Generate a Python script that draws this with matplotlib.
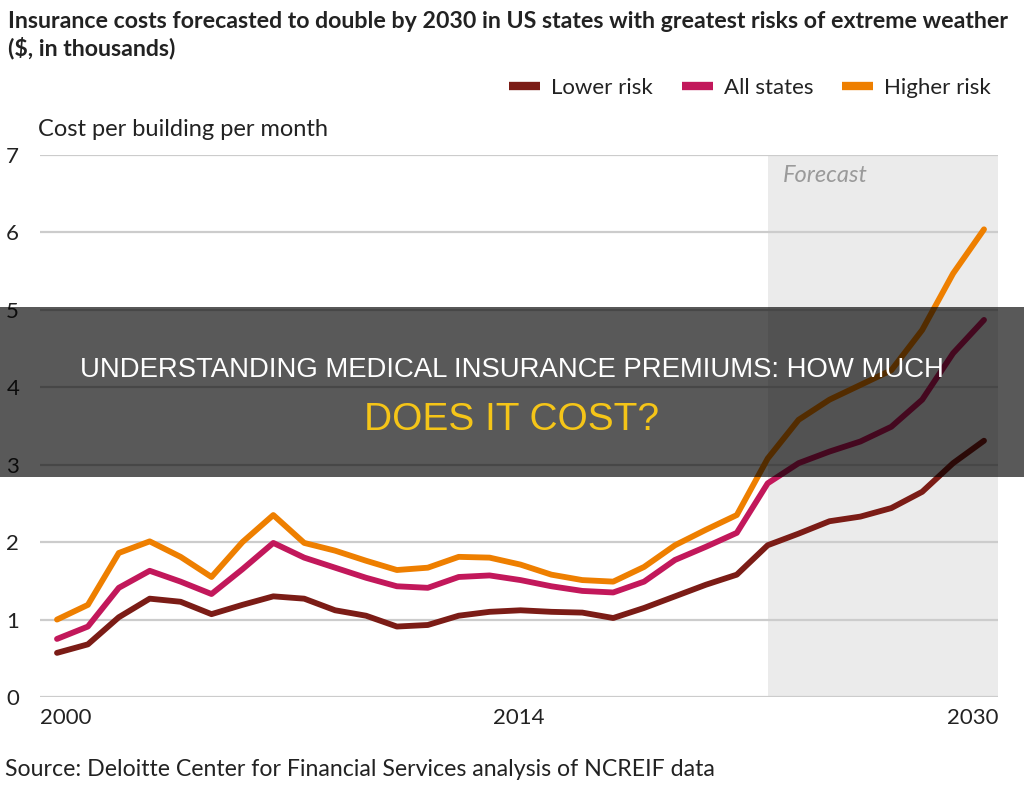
import matplotlib
matplotlib.use("Agg")
import matplotlib.pyplot as plt
from matplotlib.patches import Rectangle

plt.rcParams['font.family'] = ['Lato', 'DejaVu Sans']

years = list(range(2000, 2031))
lower_risk = [0.57, 0.68, 1.03, 1.27, 1.23, 1.07, 1.19, 1.30, 1.27, 1.12, 1.05,
              0.91, 0.93, 1.05, 1.10, 1.12, 1.10, 1.09, 1.02, 1.15, 1.30, 1.45,
              1.58, 1.96, 2.11, 2.27, 2.33, 2.44, 2.65, 3.02, 3.31]
all_states = [0.75, 0.91, 1.41, 1.63, 1.49, 1.33, 1.65, 1.99, 1.80, 1.67, 1.54,
              1.43, 1.41, 1.55, 1.57, 1.51, 1.43, 1.37, 1.35, 1.49, 1.77, 1.94,
              2.12, 2.76, 3.02, 3.17, 3.30, 3.49, 3.84, 4.44, 4.87]
higher_risk = [1.00, 1.19, 1.86, 2.01, 1.81, 1.55, 2.00, 2.35, 1.99, 1.89, 1.76,
               1.64, 1.67, 1.81, 1.80, 1.71, 1.58, 1.51, 1.49, 1.68, 1.96, 2.16,
               2.35, 3.08, 3.58, 3.84, 4.03, 4.22, 4.74, 5.47, 6.04]
forecast_start = 2023
x_labels = ['2000', '2014', '2030']

colors = {'Lower risk': '#7b1c16', 'All states': '#c2185b', 'Higher risk': '#ee7f00'}

fig = plt.figure(figsize=(10.24, 7.86), dpi=100)
ax = fig.add_axes([40/1024, 1-697/786, 958/1024, 542/786])

x0 = years[0] - 17/30.9
x1 = years[-1] + 14/30.9
ax.set_xlim(x0, x1)
ax.set_ylim(0, 7)

ax.axvspan(forecast_start, x1, color='#ebebeb', lw=0, zorder=0)
for v in range(0, 8):
    ax.axhline(v, color='#cccccc', lw=1.6, zorder=1)

series = [('Lower risk', lower_risk), ('All states', all_states), ('Higher risk', higher_risk)]
for name, vals in series:
    ax.plot(years, vals, color=colors[name], lw=4.2, solid_joinstyle='round',
            solid_capstyle='round', zorder=3, label=name)

for s in ax.spines.values():
    s.set_visible(False)
ax.set_yticks(range(0, 8))
ax.tick_params(axis='y', length=0, pad=15, labelsize=16, labelcolor='#222222')
ax.set_xticks([x0, (x0 + x1) / 2, x1])
ax.set_xticklabels(x_labels)
ax.tick_params(axis='x', length=0, pad=8, labelsize=16, labelcolor='#222222')
for lab, ha in zip(ax.get_xticklabels(), ['left', 'center', 'right']):
    lab.set_horizontalalignment(ha)

fig.text(783/1024, 1-175/786, 'Forecast', fontsize=17, style='italic',
         color='#9a9a9a', va='center', ha='left')

fig.text(8/1024, 1-22/786, 'Insurance costs forecasted to double by 2030 in US states with greatest risks of extreme weather',
         fontsize=16.7, fontweight='bold', color='#222222', va='center', ha='left')
fig.text(8/1024, 1-48/786, '($, in thousands)', fontsize=16.7, fontweight='bold',
         color='#222222', va='center', ha='left')
fig.text(38/1024, 1-130/786, 'Cost per building per month', fontsize=17,
         color='#222222', va='center', ha='left')
fig.text(5/1024, 1-770/786, 'Source: Deloitte Center for Financial Services analysis of NCREIF data',
         fontsize=16.7, color='#222222', va='center', ha='left')

handles, labels = ax.get_legend_handles_labels()
leg = fig.legend(handles, labels, loc='center right', bbox_to_anchor=(1000/1024, 1-88/786),
                 ncol=3, frameon=False, fontsize=16, handlelength=1.4, handletextpad=0.5,
                 columnspacing=1.3, borderaxespad=0)
for h in leg.get_lines():
    h.set_linewidth(6)
    h.set_solid_capstyle('butt')
for t in leg.get_texts():
    t.set_color('#222222')

# overlay banner
fig.add_artist(Rectangle((0, 1-477/786), 1, 170/786, transform=fig.transFigure,
                         facecolor='black', alpha=0.65, lw=0, zorder=10))
fig.text(0.5, 1-370/786, 'UNDERSTANDING MEDICAL INSURANCE PREMIUMS: HOW MUCH',
         fontsize=19.8, color='white', ha='center', va='center',
         family=['Liberation Sans', 'DejaVu Sans'], zorder=11)
fig.text(0.5, 1-420/786, 'DOES IT COST?', fontsize=28, color='#f5c518',
         ha='center', va='center', family=['Liberation Sans', 'DejaVu Sans'], zorder=11)

fig.savefig('out.png', dpi=100)
